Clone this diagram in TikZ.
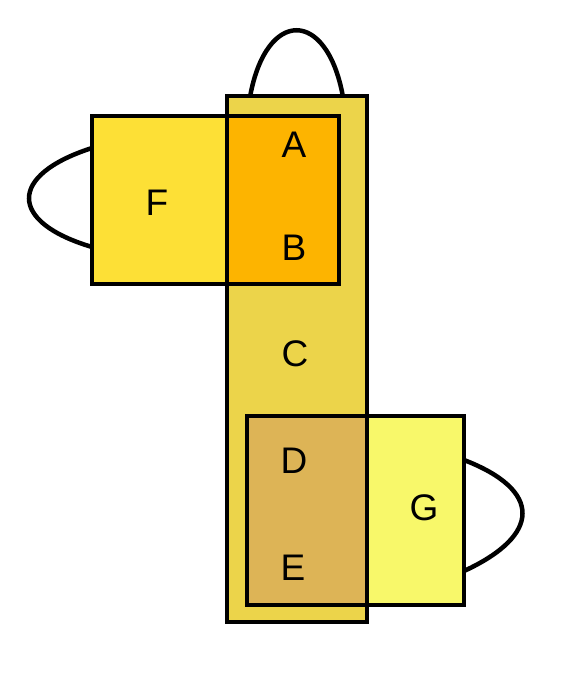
\documentclass[tikz,border=0pt]{standalone}
\usepackage{fontspec}
\setmainfont{Liberation Sans}
\usepackage{tikz}

\definecolor{colfill}{HTML}{ECD44A}
\definecolor{ffill}{HTML}{FDE036}
\definecolor{abfill}{HTML}{FDB400}
\definecolor{defill}{HTML}{DDB456}
\definecolor{gfill}{HTML}{F8F86A}

\begin{document}
\begin{tikzpicture}[
	x=1pt, y=-1pt,
	every path/.style={line width=3.5pt},
	box/.style={draw, rectangle, inner sep=0pt, line join=miter},
	handle/.style={line width=4.5pt},
	letter/.style={font=\fontsize{37}{37}\selectfont},
]
	\useasboundingbox (0,0) rectangle (576,694);

	\node [box, fill=colfill, minimum width=140pt, minimum height=526pt] (col) at (297,359) {};

	\node [box, fill=ffill, minimum width=135pt, minimum height=168pt] (f) at (159.5,200) {};
	\node [box, fill=abfill, minimum width=112pt, minimum height=168pt] (ab) at (283,200) {};
	\node [box, fill=defill, minimum width=120pt, minimum height=189pt] (de) at (307,510.5) {};
	\node [box, fill=gfill, minimum width=97pt, minimum height=189pt] (g) at (415.5,510.5) {};

	\node [letter] (la) at (294,145) {A};
	\node [letter] (lb) at (294,248) {B};
	\node [letter] (lc) at (295,354) {C};
	\node [letter] (ld) at (294,461) {D};
	\node [letter] (le) at (293,568) {E};
	\node [letter] (lf) at (157,203) {F};
	\node [letter] (lg) at (424,508) {G};

	\coordinate (t1) at (250,97);
	\coordinate (t2) at (343,97);
	\coordinate (f1) at (92,148);
	\coordinate (f2) at (92,247);
	\coordinate (g1) at (464,460);
	\coordinate (g2) at (464,571);

	\draw [handle] (t1) .. controls (266,8) and (327,8) .. (t2);
	\draw [handle] (f1) .. controls (8,175) and (8,222) .. (f2);
	\draw [handle] (g1) .. controls (542,490) and (542,535) .. (g2);
\end{tikzpicture}
\end{document}
